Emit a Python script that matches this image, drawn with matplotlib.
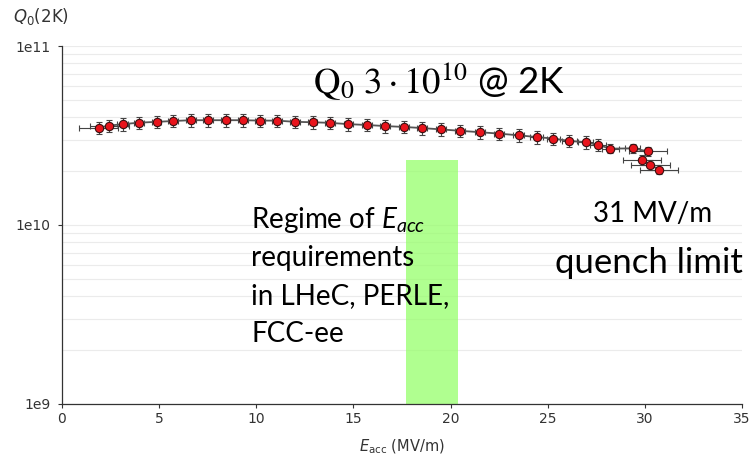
import numpy as np
import matplotlib.pyplot as plt
from matplotlib.ticker import LogLocator, NullFormatter, FixedLocator

plt.rcParams['mathtext.fontset'] = 'custom'
plt.rcParams['mathtext.rm'] = 'Lato'
plt.rcParams['mathtext.it'] = 'Lato:italic'

# measured points, E_acc in MV/m and Q0 at 2 K
e_acc = [1.90, 2.43, 3.12, 3.98, 4.87, 5.73, 6.64, 7.53, 8.42, 9.30,
         10.19, 11.08, 11.99, 12.90, 13.81, 14.74, 15.70, 16.64, 17.59, 18.54,
         19.51, 20.48, 21.50, 22.49, 23.50, 24.43, 25.29, 26.11, 26.95, 27.59,
         28.22, 29.37, 30.16, 29.85, 30.27, 30.73]
q0 = [3.50e10, 3.59e10, 3.66e10, 3.73e10, 3.77e10, 3.81e10, 3.85e10, 3.85e10, 3.85e10, 3.85e10,
      3.83e10, 3.83e10, 3.77e10, 3.75e10, 3.72e10, 3.66e10, 3.62e10, 3.57e10, 3.53e10, 3.48e10,
      3.42e10, 3.36e10, 3.30e10, 3.24e10, 3.17e10, 3.10e10, 3.04e10, 2.95e10, 2.90e10, 2.80e10,
      2.67e10, 2.68e10, 2.58e10, 2.31e10, 2.17e10, 2.04e10]
e_err = [1.0, 1.0, 0.3, 0.25, 0.25, 0.25, 0.25, 0.25, 0.25, 0.25,
         0.25, 0.25, 0.25, 0.25, 0.25, 0.25, 0.25, 0.25, 0.25, 0.25,
         0.25, 0.25, 0.25, 0.25, 0.3, 0.35, 0.35, 0.4, 0.4, 0.4,
         0.45, 0.4, 1.0, 1.0, 1.0, 1.0]
q_rel_err = [0.08] * 30 + [0.06] * 6

# E_acc range of LHeC / PERLE / FCC-ee
regime_lo, regime_hi = 17.7, 20.4
regime_top = 2.31e10

q0 = np.array(q0)
q_err = q0 * np.array(q_rel_err)

fig = plt.figure(figsize=(7.53, 4.55), dpi=100)
ax = fig.add_axes([0.0823, 0.1121, 0.9031, 0.7868])

ax.bar(regime_lo, regime_top - 1e9, width=regime_hi - regime_lo, bottom=1e9,
       align='edge', color='#96ff6b', alpha=0.75, lw=0, zorder=1)

ax.errorbar(e_acc, q0, xerr=e_err, yerr=q_err, fmt='none', ecolor='#444444',
            elinewidth=0.8, capsize=2, capthick=0.8, zorder=2)
ax.plot(e_acc, q0, '-', color='#555555', lw=1.3, zorder=3)
ax.plot(e_acc, q0, 'o', ms=6, mfc='#e8141c', mec='#3a1010', mew=0.8, zorder=4)

ax.set_yscale('log')
ax.set_xlim(0, 35)
ax.set_ylim(1e9, 1e11)
ax.xaxis.set_major_locator(FixedLocator([0, 5, 10, 15, 20, 25, 30, 35]))
ax.yaxis.set_major_locator(FixedLocator([1e9, 1e10, 1e11]))
ax.set_yticklabels(['1e9', '1e10', '1e11'])
ax.yaxis.set_minor_locator(LogLocator(base=10, subs=np.arange(2, 10)))
ax.yaxis.set_minor_formatter(NullFormatter())
ax.tick_params(axis='y', which='minor', length=0)
ax.tick_params(axis='both', which='major', length=3, width=0.8, colors='#333333',
               labelsize=10, pad=3)
ax.tick_params(axis='y', which='major', pad=5)
ax.grid(True, axis='y', which='both', color='#ebebeb', lw=0.8, zorder=0)
ax.set_axisbelow(True)

for s in ['top', 'right']:
    ax.spines[s].set_visible(False)
for s in ['left', 'bottom']:
    ax.spines[s].set_color('#333333')
    ax.spines[s].set_linewidth(0.9)

ax.set_xlabel(r'$E_{\mathrm{acc}}$ (MV/m)', fontsize=10.5, color='#333333',
              math_fontfamily='dejavusans', labelpad=8)
fig.text(0.017, 0.963, r'$Q_0$(2K)', fontsize=12, color='#333333',
         math_fontfamily='dejavusans', va='center')

ax.text(12.92, 5.39e10, r'$\mathrm{Q_0\ 3\cdot10^{10}}$ @ 2K', fontsize=26.5,
        family='Lato', math_fontfamily='stix', va='baseline')

regime_lines = [r'Regime of $E_{acc}$', 'requirements', 'in LHeC, PERLE,', 'FCC-ee']
for i, line in enumerate(regime_lines):
    ypix = 228 + 38 * i
    ax.text(9.73, 10 ** (11 - (ypix - 46) / 179), line, fontsize=20,
            family='Lato', va='baseline', zorder=5)

ax.text(27.33, 1.04e10, '31 MV/m', fontsize=20, family='Lato', va='baseline')
ax.text(25.37, 10 ** (11 - (273 - 46) / 179), 'quench limit', fontsize=25,
        family='Lato', va='baseline')

fig.savefig('out.png', dpi=100)
